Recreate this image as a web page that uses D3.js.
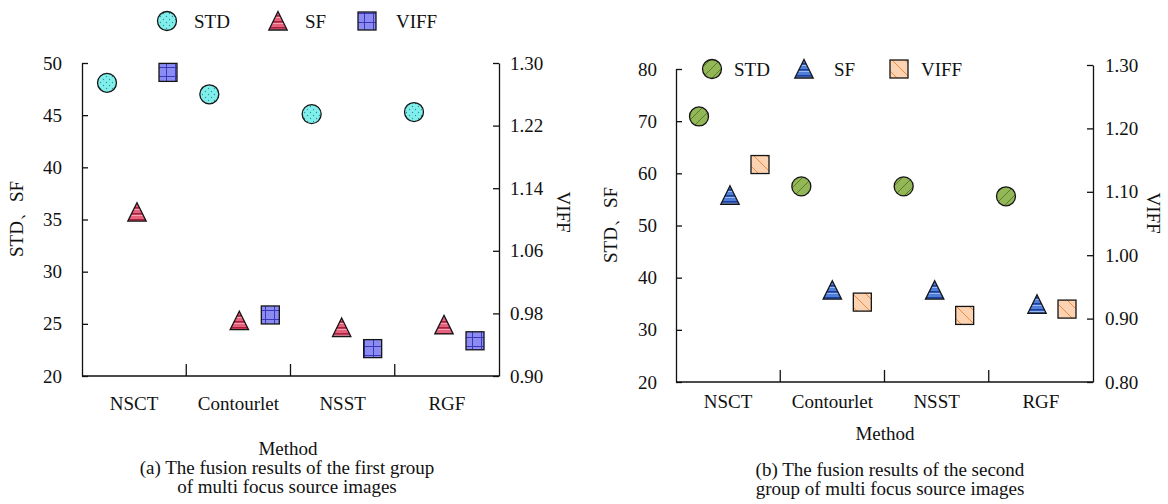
<!DOCTYPE html>
<html lang="en">
<head>
<meta charset="UTF-8">
<title>Fusion results of multi focus source images</title>
<script src="https://d3js.org/d3.v7.min.js"></script>
<style>
  body { margin: 0; background: #fff; }
  svg text { font-family: "Liberation Serif", "DejaVu Serif", serif; font-size: 19px; fill: #111; }
  .axis path, .axis line { stroke: #111; stroke-width: 1.3px; }
  .mark { stroke: #151515; stroke-width: 1.3px; }
</style>
</head>
<body>
<svg id="chart" width="1168" height="504" font-family="Liberation Serif, DejaVu Serif, serif"></svg>
<script>
const methods = ["NSCT", "Contourlet", "NSST", "RGF"];
const seriesNames = ["STD", "SF", "VIFF"];

// group (a)
const stdA = [48.1, 47.0, 45.1, 45.3];
const sfA = [35.7, 25.3, 24.65, 24.9];
const viffA = [1.288, 0.978, 0.935, 0.945];
const leftTicksA = [20, 25, 30, 35, 40, 45, 50];
const rightTicksA = [0.90, 0.98, 1.06, 1.14, 1.22, 1.30];
const captionA = ["(a) The fusion results of the first group", "of multi focus source images"];

// group (b)
const stdB = [70.9, 57.5, 57.5, 55.6];
const sfB = [55.8, 37.6, 37.6, 34.9];
const viffB = [1.143, 0.926, 0.905, 0.915];
const leftTicksB = [20, 30, 40, 50, 60, 70, 80];
const rightTicksB = [0.80, 0.90, 1.00, 1.10, 1.20, 1.30];
const captionB = ["(b) The fusion results of the second", "group of multi focus source images"];

const svg = d3.select("#chart");
const defs = svg.append("defs");

// fill patterns
function dotPattern(id, bg, fg) {
  const p = defs.append("pattern").attr("id", id).attr("patternUnits", "userSpaceOnUse")
    .attr("width", 6).attr("height", 6);
  p.append("rect").attr("width", 6).attr("height", 6).attr("fill", bg);
  p.append("circle").attr("cx", 1.5).attr("cy", 1.5).attr("r", 0.7).attr("fill", fg);
  p.append("circle").attr("cx", 4.5).attr("cy", 4.5).attr("r", 0.7).attr("fill", fg);
}
function stripePattern(id, bg, dark, light) {
  const p = defs.append("pattern").attr("id", id).attr("patternUnits", "userSpaceOnUse")
    .attr("width", 6).attr("height", 6);
  p.append("rect").attr("width", 6).attr("height", 6).attr("fill", bg);
  p.append("rect").attr("y", 3).attr("width", 6).attr("height", 1.6).attr("fill", dark);
  p.append("rect").attr("y", 5).attr("width", 6).attr("height", 1).attr("fill", light);
}
function gridPattern(id, bg, fg) {
  const p = defs.append("pattern").attr("id", id).attr("patternUnits", "userSpaceOnUse")
    .attr("width", 9).attr("height", 9);
  p.append("rect").attr("width", 9).attr("height", 9).attr("fill", bg);
  p.append("rect").attr("x", 4).attr("width", 1).attr("height", 9).attr("fill", fg);
  p.append("rect").attr("y", 4).attr("width", 9).attr("height", 1).attr("fill", fg);
}
function diagPattern(id, bg, fg, size, flip) {
  const p = defs.append("pattern").attr("id", id).attr("patternUnits", "userSpaceOnUse")
    .attr("width", size).attr("height", size);
  p.append("rect").attr("width", size).attr("height", size).attr("fill", bg);
  p.append("path")
    .attr("d", flip ? `M0,0L${size},${size}` : `M0,${size}L${size},0`)
    .attr("stroke", fg).attr("stroke-width", 1);
}
dotPattern("stdA", "#82eeec", "#1f9c9c");
stripePattern("sfA", "#e5617c", "#a8213f", "#f4a3b2");
gridPattern("viffA", "#8b8bf2", "#3a3ab8");
diagPattern("stdB", "#93b657", "#5b7d2b", 10, false);
stripePattern("sfB", "#4f7fd9", "#1c3e9c", "#9ab9f2");
diagPattern("viffB", "#fbd3b3", "#f08a3c", 13, true);

function drawMark(g, shape, cx, cy, fill) {
  if (shape === "circle") {
    g.append("circle").attr("class", "mark").attr("cx", cx).attr("cy", cy).attr("r", 9.5).attr("fill", fill);
  } else if (shape === "square") {
    g.append("rect").attr("class", "mark").attr("x", cx - 9).attr("y", cy - 9)
      .attr("width", 18).attr("height", 18).attr("fill", fill);
  } else {
    g.append("path").attr("class", "mark")
      .attr("d", `M${cx},${cy - 9.5}L${cx + 9.2},${cy + 9}L${cx - 9.2},${cy + 9}Z`)
      .attr("fill", fill);
  }
}

const shapes = ["circle", "triangle", "square"];

function drawPanel(cfg) {
  const g = svg.append("g");
  const x = d3.scaleBand().domain(methods).range([cfg.left, cfg.right]);
  const yL = d3.scaleLinear().domain(d3.extent(cfg.leftTicks)).range([cfg.bottom, cfg.topL]);
  const yR = d3.scaleLinear().domain(d3.extent(cfg.rightTicks)).range([cfg.bottom, cfg.topR]);
  const mx = d3.scaleLinear().domain([0, methods.length - 1]).range(cfg.markRange);

  const axL = g.append("g").attr("class", "axis").attr("transform", `translate(${cfg.left},0)`)
    .call(d3.axisLeft(yL).tickValues(cfg.leftTicks).tickSizeInner(-6).tickSizeOuter(0)
      .tickPadding(cfg.padL).tickFormat(d3.format("d")));
  const axR = g.append("g").attr("class", "axis").attr("transform", `translate(${cfg.right},0)`)
    .call(d3.axisRight(yR).tickValues(cfg.rightTicks).tickSizeInner(-6).tickSizeOuter(0)
      .tickPadding(cfg.padR).tickFormat(d3.format(".2f")));
  [axL, axR].forEach(a => a.attr("font-family", null).attr("font-size", null));

  // bottom axis with separators between categories
  const bx = g.append("g").attr("class", "axis");
  bx.append("line").attr("x1", cfg.left).attr("x2", cfg.right)
    .attr("y1", cfg.bottom).attr("y2", cfg.bottom);
  bx.selectAll(".sep").data(methods.slice(1)).join("line")
    .attr("x1", d => x(d)).attr("x2", d => x(d))
    .attr("y1", cfg.bottom).attr("y2", cfg.bottom - 12);
  g.selectAll(".cat").data(methods).join("text")
    .attr("x", d => x(d) + x.bandwidth() / 2).attr("y", cfg.catY)
    .attr("text-anchor", "middle").text(d => d);

  // axis titles
  g.append("text").attr("transform", `translate(${cfg.titleLX},${cfg.titleLY}) rotate(-90)`)
    .attr("text-anchor", "middle").text("STD、SF");
  g.append("text").attr("transform", `translate(${cfg.titleRX},${cfg.titleRY}) rotate(90)`)
    .attr("text-anchor", "middle").text("VIFF");
  g.append("text").attr("x", cfg.methodX).attr("y", cfg.methodY).attr("text-anchor", "middle").text("Method");
  cfg.caption.forEach((line, i) => {
    g.append("text").attr("x", cfg.capX).attr("y", cfg.capY + i * 19)
      .attr("text-anchor", "middle").text(line);
  });

  // markers
  const series = [cfg.std, cfg.sf, cfg.viff];
  series.forEach((vals, s) => {
    const scale = s === 2 ? yR : yL;
    vals.forEach((v, i) => {
      drawMark(g, shapes[s], mx(i) + cfg.offsets[s], scale(v), `url(#${cfg.fills[s]})`);
    });
  });

  // legend
  seriesNames.forEach((name, s) => {
    drawMark(g, shapes[s], cfg.legendX[s], cfg.legendY, `url(#${cfg.fills[s]})`);
    g.append("text").attr("x", cfg.legendTextX[s]).attr("y", cfg.legendY + 6.5).text(name);
  });
}

drawPanel({
  left: 82, right: 499, topL: 63, topR: 63, bottom: 376,
  leftTicks: leftTicksA, rightTicks: rightTicksA, padL: 20, padR: 11,
  markRange: [107, 414], offsets: [0, 30, 61],
  std: stdA, sf: sfA, viff: viffA, fills: ["stdA", "sfA", "viffA"],
  catY: 410, titleLX: 23, titleLY: 219, titleRX: 557, titleRY: 212,
  methodX: 288, methodY: 455, caption: captionA, capX: 287, capY: 474,
  legendX: [167, 278, 367], legendTextX: [194, 305, 396], legendY: 21
});

drawPanel({
  left: 676, right: 1093, topL: 69, topR: 65, bottom: 382,
  leftTicks: leftTicksB, rightTicks: rightTicksB, padL: 19, padR: 12,
  markRange: [699, 1006], offsets: [0, 31, 61],
  std: stdB, sf: sfB, viff: viffB, fills: ["stdB", "sfB", "viffB"],
  catY: 408, titleLX: 617, titleLY: 225, titleRX: 1147, titleRY: 213,
  methodX: 885, methodY: 440, caption: captionB, capX: 890, capY: 476,
  legendX: [712, 804, 899], legendTextX: [734, 834, 921], legendY: 69
});
</script>
</body>
</html>
